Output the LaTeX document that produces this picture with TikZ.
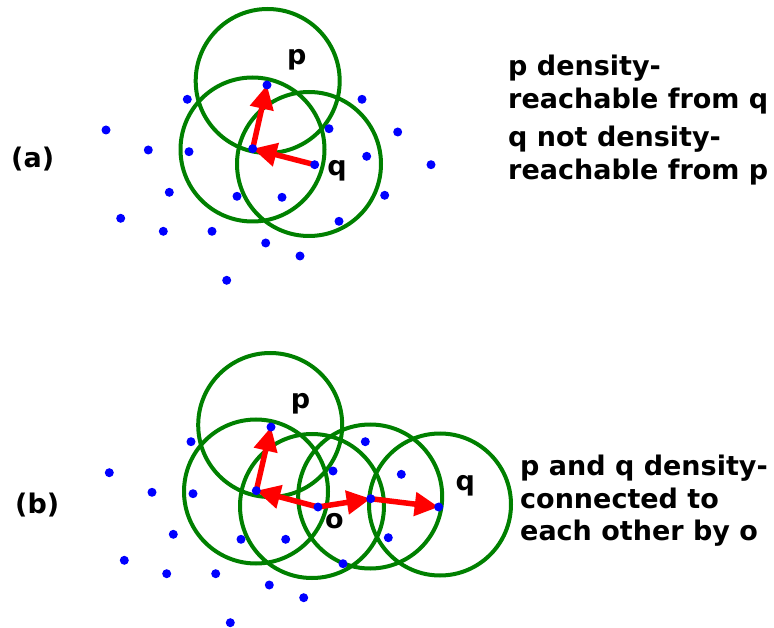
\documentclass[tikz,border=0pt]{standalone}
\usepackage{fontspec}
\setmainfont{DejaVu Sans}
\usetikzlibrary{arrows.meta}
\definecolor{ringgreen}{RGB}{0, 128, 0}
\definecolor{dotblue}{RGB}{0, 0, 255}
\definecolor{linkred}{RGB}{255, 0, 0}

\begin{document}
\begin{tikzpicture}[x=1pt, y=-1pt,
  ring/.style={ringgreen, line width=4pt},
  link/.style={linkred, line width=5.5pt, -{Triangle[length=24pt, width=23pt]}},
  dot/.style={circle, fill=dotblue, inner sep=0pt, minimum size=9pt},
  lbl/.style={font=\bfseries\fontsize{27}{32.5}\selectfont, inner sep=0pt},
  txt/.style={lbl, align=left, anchor=base west}]

  \useasboundingbox (0,0) rectangle (774,628);

  % (a) Punkte
  \coordinate (pa) at (267,85);
  \coordinate (ma) at (252.7,148.7);
  \coordinate (qa) at (314.7,164.7);

  % (b) Punkte
  \coordinate (pb) at (271,427);
  \coordinate (ab) at (256.3,490.7);
  \coordinate (ob) at (318,507);
  \coordinate (bb) at (370.7,498.7);
  \coordinate (qb) at (438.7,507);

  % Kreise (a)
  \draw[ring] (267.7,81) circle[radius=72];
  \draw[ring] (252.5,149.5) circle[radius=72];
  \draw[ring] (309,164) circle[radius=72];

  % Kreise (b)
  \draw[ring] (270.2,425) circle[radius=72];
  \draw[ring] (256,491.5) circle[radius=72];
  \draw[ring] (312,506) circle[radius=72];
  \draw[ring] (370.2,496.5) circle[radius=72];
  \draw[ring] (440,504.5) circle[radius=71];

  % Pfeile
  \draw[link] (qa) -- (ma);
  \draw[link] (ma) -- (pa);
  \draw[link] (ab) -- (pb);
  \draw[link] (ob) -- (ab);
  \draw[link] (ob) -- (bb);
  \draw[link] (bb) -- (qb);

  % Datenpunkte
  \foreach \c in {pa,ma,qa,pb,ab,ob,bb,qb}
    \node[dot] at (\c) {};
  \foreach \x/\y in {187.3/99.3, 362/99.3, 106/130, 329/128.7, 397.7/132,
      148.3/150, 189/151.7, 366.7/156.3, 431/164.7, 169.3/192.3, 237/196.3,
      282/197.3, 384.7/195.3, 120.7/218.3, 339/221.3, 163.3/231.3, 212/231.3,
      265.7/243, 300/256, 226.7/280.3}
    \node[dot] at (\x,\y) {};
  \foreach \x/\y in {191/441.7, 365.3/441.7, 109.3/472.7, 333/471, 401.3/474.3,
      152/492.3, 193/493.7, 173.3/534.3, 241/539.3, 285.7/539.3, 388.3/537.7,
      124.3/560.3, 343/563.7, 166.7/573.7, 215.7/573.7, 269.3/585,
      303.7/597.7, 230.3/622.7}
    \node[dot] at (\x,\y) {};

  % Beschriftungen
  \node[lbl, anchor=base] (lpa) at (296.7,65) {p};
  \node[lbl, anchor=base] (lqa) at (337,175.7) {q};
  \node[lbl, anchor=base] (lpb) at (300.5,408.3) {p};
  \node[lbl, anchor=base] (lob) at (334.3,528) {o};
  \node[lbl, anchor=base] (lqb) at (465.3,490) {q};
  \node[lbl, anchor=base west] (tagA) at (11,167.3) {(a)};
  \node[lbl, anchor=base west] (tagB) at (15,513.3) {(b)};

  % Erklaerungen (base = letzte Zeile)
  \node[txt] (reachA) at (508,108.3) {p density-\\reachable from q};
  \node[txt] (notA) at (508,179.3) {q not density-\\reachable from p};
  \node[txt] (connB) at (520,540.7) {p and q density-\\connected to\\each other by o};

\end{tikzpicture}
\end{document}
